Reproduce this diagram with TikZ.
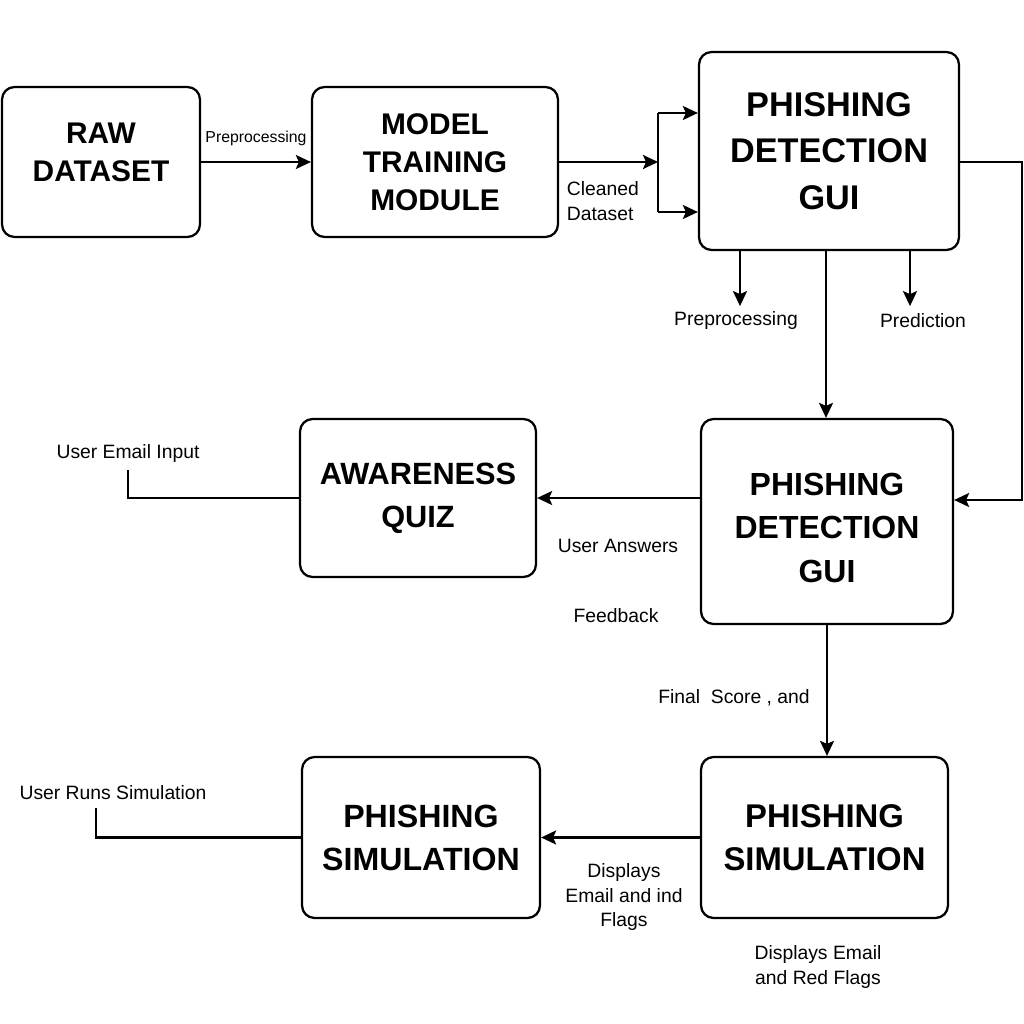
\documentclass[tikz,border=0pt]{standalone}
\usepackage{fontspec}
\setmainfont{Liberation Sans}
\usetikzlibrary{arrows.meta}

\begin{document}
\begin{tikzpicture}[x=0.02cm,y=-0.02cm,line width=1.3pt,
        >={Stealth[length=3mm,width=2.8mm,inset=0.6mm]},
        box/.style n args={2}{draw,rounded corners=0.25cm,align=center,
            font=\bfseries\fontsize{#1}{#2}\selectfont},
        lbl/.style={font=\fontsize{11}{14}\selectfont,align=center,inner sep=1pt}]
        \useasboundingbox (0,0) rectangle (1024,1024);

        \node[box={17}{21.6},minimum width=3.96cm,minimum height=3cm] (raw) at (101,162)
            {RAW\\DATASET\rule[-0.4cm]{0pt}{0.4cm}};
        \node[box={17}{21.6},minimum width=4.92cm,minimum height=3cm] (model) at (435,162)
            {MODEL\\TRAINING\\MODULE};
        \node[box={19.5}{26.5},minimum width=5.2cm,minimum height=3.96cm] (gui) at (829,151)
            {PHISHING\\DETECTION\\GUI};
        \node[box={17.5}{24.4},minimum width=4.72cm,minimum height=3.16cm] (quiz) at (418,498)
            {AWARENESS\\QUIZ};
        \node[box={18.2}{24.7},minimum width=5.04cm,minimum height=4.1cm] (gui2) at (827,521.5)
            {\rule{0pt}{0.7cm}PHISHING\\DETECTION\\GUI};
        \node[box={18.3}{24.4},minimum width=4.76cm,minimum height=3.22cm] (sim) at (421,837.5)
            {PHISHING\\SIMULATION};
        \node[box={18.7}{24.4},minimum width=4.94cm,minimum height=3.22cm] (sim2) at (824.5,837.5)
            {PHISHING\\SIMULATION};

        \coordinate (split) at (658,162);
        \coordinate (splitup) at (658,113);
        \coordinate (splitdn) at (658,212);
        \coordinate (rtop) at (1022,162);
        \coordinate (rbot) at (1022,500);
        \coordinate (emailend) at (128,470);
        \coordinate (runsend) at (96,808);

        \draw[->] (raw) -- (model);
        \draw[->] (model) -- (split);
        \draw (splitup) -- (splitdn);
        \draw[->] (splitup) -- (gui.west |- splitup);
        \draw[->] (splitdn) -- (gui.west |- splitdn);
        \draw[->] (gui.south -| 740,0) -- ++(0,55);
        \draw[->] (gui.south -| 910,0) -- ++(0,55);
        \draw[->] (gui.south -| 826,0) -- (gui2.north -| 826,0);
        \draw[->] (gui.east |- rtop) -- (rtop) -- (rbot) -- (gui2.east |- rbot);
        \draw[->] (gui2.west |- quiz.east) -- (quiz.east);
        \draw (quiz.west) -| (emailend);
        \draw[->] (gui2.south) -- (gui2.south |- sim2.north);
        \draw[->] (sim2.west) -- (sim.east);
        \draw (sim.west) -| (runsend);

        \node[lbl,font=\fontsize{9}{11}\selectfont] (pre1) at (256,138) {Preprocessing};
        \node[lbl,align=left,anchor=west] (clean) at (564,201) {Cleaned\\Dataset};
        \node[lbl] (pre2) at (736,321) {Preprocessing};
        \node[lbl] (pred) at (923,321) {Prediction};
        \node[lbl] (email) at (128,453) {User Email Input};
        \node[lbl] (answers) at (618,546) {User Answers};
        \node[lbl] (feedback) at (616,616) {Feedback};
        \node[lbl] (score) at (734,698) {Final~ Score , and};
        \node[lbl] (disp) at (624,897) {Displays\\Email and ind\\Flags};
        \node[lbl] (runs) at (113,793) {User Runs Simulation};
        \node[lbl] (disp2) at (818,967) {Displays Email\\and Red Flags};
\end{tikzpicture}
\end{document}
